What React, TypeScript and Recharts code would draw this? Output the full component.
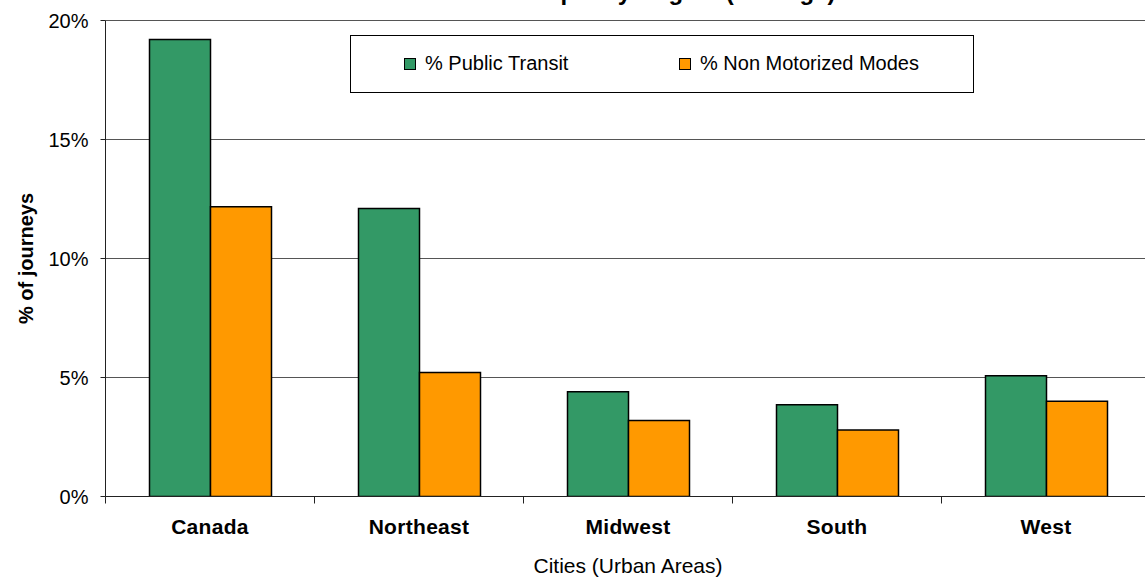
import React from 'react';
import {
  BarChart,
  Bar,
  XAxis,
  YAxis,
  CartesianGrid,
  Legend,
  Customized,
} from 'recharts';

// Share of journeys by mode, per region (percent)
const regions = ['Canada', 'Northeast', 'Midwest', 'South', 'West'];
const publicTransit = [19.2, 12.1, 4.4, 3.85, 5.07];
const nonMotorized = [12.17, 5.21, 3.19, 2.79, 4.0];
const percentTicks = [0, 5, 10, 15, 20];

const SERIES = [
  { key: 'transit', name: '% Public Transit', color: '#339966' },
  { key: 'walkBike', name: '% Non Motorized Modes', color: '#FF9900' },
];

const rows = regions.map((region, i) => ({
  region,
  transit: publicTransit[i],
  walkBike: nonMotorized[i],
}));

const FONT = '"Liberation Sans", Arial, sans-serif';
const AXIS_COLOR = '#222';
const TICK_LEN = 7;

// Category label plus an Excel-style tick mark on the left edge of each band
const RegionTick = (props: any) => {
  const { x, y, payload } = props;
  const half = typeof payload?.offset === 'number' ? payload.offset : 104.5;
  const edge = x - half;
  return (
    <g>
      <line x1={edge} y1={y - TICK_LEN} x2={edge} y2={y} stroke={AXIS_COLOR} strokeWidth={1} />
      <text
        x={x}
        y={y + 30.5}
        textAnchor="middle"
        fontFamily={FONT}
        fontSize={21}
        fontWeight="bold"
        letterSpacing={0.3}
        fill="#000"
      >
        {payload.value}
      </text>
    </g>
  );
};

const YTitle = (props: any) => {
  const vb = props.viewBox || {};
  const cx = 32.5;
  const cy = (vb.y ?? 0) + (vb.height ?? 0) / 2;
  return (
    <text
      x={cx}
      y={cy}
      transform={`rotate(-90, ${cx}, ${cy})`}
      textAnchor="middle"
      fontFamily={FONT}
      fontSize={20}
      fontWeight="bold"
      fill="#000"
    >
      % of journeys
    </text>
  );
};

const LegendBox = () => {
  const squareLefts = [53, 328];
  return (
    <div style={{ position: 'relative', width: '100%', height: '100%' }}>
      {SERIES.map((s, i) => (
        <React.Fragment key={s.key}>
          <div
            style={{
              position: 'absolute',
              left: squareLefts[i],
              top: 22,
              width: 12,
              height: 12,
              boxSizing: 'border-box',
              border: '1px solid #000',
              background: s.color,
            }}
          />
          <div
            style={{
              position: 'absolute',
              left: squareLefts[i] + 21,
              top: 17,
              fontFamily: FONT,
              fontSize: 20,
              lineHeight: '20px',
              whiteSpace: 'nowrap',
              color: '#000',
            }}
          >
            {s.name}
          </div>
        </React.Fragment>
      ))}
    </div>
  );
};

// Chart title, sitting against the top edge of the canvas
const Title = () => (
  <text
    x={652}
    y={0}
    textAnchor="middle"
    fontFamily={FONT}
    fontSize={24}
    fontWeight="bold"
    fill="#000"
  >
    Modal Split by Region (Average)
  </text>
);

export default function App() {
  return (
    <div
      style={{
        position: 'fixed',
        top: 0,
        left: 0,
        width: 1145,
        height: 581,
        overflow: 'hidden',
        background: '#fff',
        fontFamily: FONT,
      }}
    >
      <BarChart
        width={1160}
        height={581}
        data={rows}
        margin={{ top: 20.5, right: 9.5, bottom: 4.5, left: 0.5 }}
        barCategoryGap={44}
        barGap={0}
      >
        <CartesianGrid vertical={false} stroke="#555" strokeWidth={1} />
        <XAxis
          dataKey="region"
          height={80}
          axisLine={{ stroke: AXIS_COLOR, strokeWidth: 1 }}
          tickLine={false}
          tickSize={TICK_LEN}
          tickMargin={0}
          interval={0}
          tick={<RegionTick />}
          label={{
            value: 'Cities (Urban Areas)',
            position: 'insideBottom',
            offset: 3.5,
            fontFamily: FONT,
            fontSize: 21,
            fill: '#000',
          }}
        />
        <YAxis
          width={105}
          domain={[0, 20]}
          ticks={percentTicks}
          allowDataOverflow
          tickFormatter={(v: number) => `${v}%`}
          axisLine={{ stroke: AXIS_COLOR, strokeWidth: 1 }}
          tickLine={{ stroke: AXIS_COLOR, strokeWidth: 1 }}
          tickSize={5}
          tickMargin={12}
          tick={{ fontFamily: FONT, fontSize: 20, fill: '#000' }}
          label={{ content: <YTitle /> }}
        />
        <Legend
          layout="horizontal"
          verticalAlign="middle"
          align="center"
          content={<LegendBox />}
          wrapperStyle={{
            left: 350,
            top: 35,
            width: 624,
            height: 58,
            boxSizing: 'border-box',
            border: '1px solid #000',
            background: '#fff',
          }}
        />
        {SERIES.map((s) => (
          <Bar
            key={s.key}
            dataKey={s.key}
            name={s.name}
            fill={s.color}
            stroke="#000"
            strokeWidth={1.5}
            isAnimationActive={false}
          />
        ))}
        <Customized component={<Title />} />
      </BarChart>
    </div>
  );
}
